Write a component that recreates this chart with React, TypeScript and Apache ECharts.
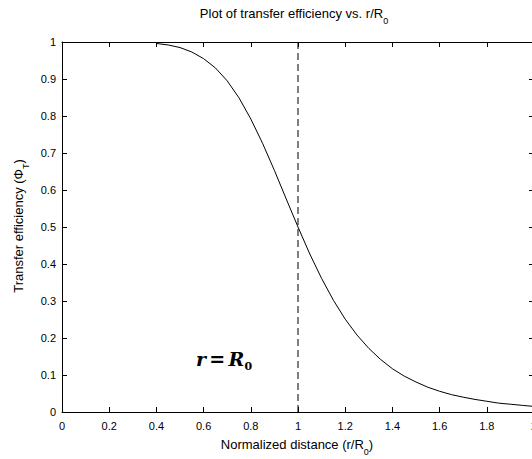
import React, { useEffect, useRef } from "react";
import * as echarts from "echarts";

// Normalized distance r/R0
const distance = [
  0.4, 0.45, 0.5, 0.55, 0.6, 0.65, 0.7, 0.75, 0.8, 0.85, 0.9, 0.95, 1.0,
  1.05, 1.1, 1.15, 1.2, 1.25, 1.3, 1.35, 1.4, 1.45, 1.5, 1.55, 1.6, 1.65,
  1.7, 1.75, 1.8, 1.85, 1.9, 1.95, 2.0,
];
// Transfer efficiency
const efficiency = [
  0.996, 0.992, 0.985, 0.973, 0.955, 0.930, 0.895, 0.849, 0.792, 0.726,
  0.653, 0.576, 0.5, 0.427, 0.361, 0.302, 0.251, 0.208, 0.172, 0.142,
  0.117, 0.097, 0.081, 0.067, 0.056, 0.047, 0.040, 0.034, 0.029, 0.024,
  0.021, 0.018, 0.015,
];
// Vertical marker r = R0
const markerX = [1, 1];
const markerY = [0, 1];

const xTickLabels = ["0", "0.2", "0.4", "0.6", "0.8", "1", "1.2", "1.4", "1.6", "1.8", "2"];
const yTickLabels = ["0", "0.1", "0.2", "0.3", "0.4", "0.5", "0.6", "0.7", "0.8", "0.9", "1"];

const FONT = "Liberation Sans";

export default function App() {
  const ref = useRef<HTMLDivElement>(null);
  useEffect(() => {
    if (!ref.current) return;
    const chart = echarts.init(ref.current, null, { renderer: "svg" });
    const curve = distance.map((x, i) => [x, efficiency[i]]);
    const marker = markerX.map((x, i) => [x, markerY[i]]);
    const axisCommon = {
      axisLine: { show: true, onZero: false, lineStyle: { color: "#000", width: 1 } },
      axisTick: { show: true, inside: true, length: 5, lineStyle: { color: "#000" } },
      splitLine: { show: false },
    };
    const subRich = {
      b: { fontFamily: FONT, fontSize: 13, color: "#000", lineHeight: 15, verticalAlign: "top" },
      s: { fontFamily: FONT, fontSize: 9, color: "#000", lineHeight: 9, padding: [9, 0, 0, 0], verticalAlign: "top" },
    };
    chart.setOption({
      animation: false,
      backgroundColor: "#fff",
      grid: { left: 62, top: 42, width: 472, height: 370, containLabel: false },
      xAxis: [
        {
          type: "value",
          min: 0,
          max: 2,
          interval: 0.2,
          position: "bottom",
          ...axisCommon,
          axisLabel: {
            show: true,
            margin: 8,
            fontFamily: FONT,
            fontSize: 11,
            color: "#000",
            formatter: (v: number) => xTickLabels[Math.round(v / 0.2)] ?? "",
          },
        },
        {
          type: "value",
          min: 0,
          max: 2,
          interval: 0.2,
          position: "top",
          ...axisCommon,
          axisLabel: { show: false },
        },
      ],
      yAxis: [
        {
          type: "value",
          min: 0,
          max: 1,
          interval: 0.1,
          position: "left",
          ...axisCommon,
          axisLabel: {
            show: true,
            margin: 6,
            fontFamily: FONT,
            fontSize: 11,
            color: "#000",
            formatter: (v: number) => yTickLabels[Math.round(v / 0.1)] ?? "",
          },
        },
        {
          type: "value",
          min: 0,
          max: 1,
          interval: 0.1,
          position: "right",
          ...axisCommon,
          axisLabel: { show: false },
        },
      ],
      series: [
        {
          type: "line",
          data: curve,
          showSymbol: false,
          symbol: "none",
          lineStyle: { color: "#000", width: 1 },
          silent: true,
        },
        {
          type: "line",
          data: marker,
          showSymbol: false,
          symbol: "none",
          lineStyle: { color: "#000", width: 1, type: [7, 4] },
          silent: true,
        },
      ],
      graphic: [
        {
          type: "text",
          x: 294,
          y: 7,
          style: {
            text: "{b|Plot of transfer efficiency vs. r/R}{s|0}",
            rich: subRich,
            align: "center",
            verticalAlign: "top",
          },
        },
        {
          type: "text",
          x: 297,
          y: 438,
          style: {
            text: "{b|Normalized distance (r/R}{s|0}{b|)}",
            rich: subRich,
            align: "center",
            verticalAlign: "top",
          },
        },
        {
          type: "text",
          x: 12,
          y: 226,
          rotation: Math.PI / 2,
          style: {
            text: "{b|Transfer efficiency (Φ}{s|T}{b|)}",
            rich: subRich,
            align: "center",
            verticalAlign: "top",
          },
        },
        {
          type: "text",
          x: 196,
          y: 349,
          style: {
            text: "{i|r} {e|=} {i|R}{z|0}",
            rich: {
              i: { fontFamily: "DejaVu Serif", fontStyle: "italic", fontWeight: "bold", fontSize: 19, color: "#14143c", lineHeight: 22, verticalAlign: "top" },
              e: { fontFamily: "DejaVu Sans", fontWeight: "bold", fontSize: 19, color: "#000", lineHeight: 22, verticalAlign: "top" },
              z: { fontFamily: "DejaVu Serif", fontWeight: "bold", fontSize: 11, color: "#14143c", lineHeight: 11, padding: [12, 0, 0, 0], verticalAlign: "top" },
            },
            align: "left",
            verticalAlign: "top",
          },
        },
      ],
    });
    return () => chart.dispose();
  }, []);
  return (
    <div style={{ position: "fixed", left: 0, top: 0, width: 532, height: 459, overflow: "hidden", background: "#fff" }}>
      <div ref={ref} style={{ width: 560, height: 459 }} />
    </div>
  );
}
